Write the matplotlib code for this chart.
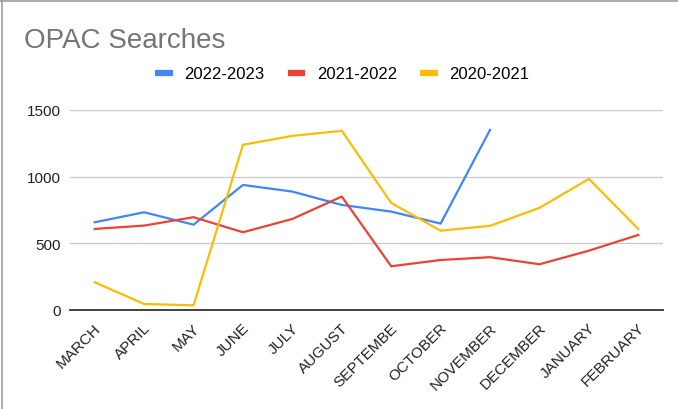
import matplotlib
matplotlib.use("Agg")
import matplotlib.pyplot as plt
import matplotlib.transforms as mtransforms
from matplotlib.lines import Line2D

plt.rcParams['font.family'] = ['Liberation Sans', 'DejaVu Sans']

months = ["MARCH", "APRIL", "MAY", "JUNE", "JULY", "AUGUST", "SEPTEMBE",
          "OCTOBER", "NOVEMBER", "DECEMBER", "JANUARY", "FEBRUARY"]
searches_2022_2023 = [658, 733, 640, 938, 888, 788, 738, 648, 1351]
searches_2021_2022 = [608, 633, 696, 583, 683, 851, 328, 375, 396, 343, 445, 563]
searches_2020_2021 = [208, 45, 35, 1239, 1306, 1344, 803, 595, 631, 766, 983, 608]

series = [
    ("2022-2023", searches_2022_2023, "#4285F4"),
    ("2021-2022", searches_2021_2022, "#EA4335"),
    ("2020-2021", searches_2020_2021, "#FBBC04"),
]

fig = plt.figure(figsize=(6.78, 4.10), dpi=100)
ax = fig.add_axes([70 / 678, 1 - 311 / 410, 593 / 678, 200 / 410])

x = list(range(len(months)))
handles = []
for name, vals, col in series:
    ax.plot(x[:len(vals)], vals, color=col, linewidth=1.6, zorder=3)
    handles.append(Line2D([], [], color=col, linewidth=4.5, solid_capstyle='butt'))

ax.set_xlim(-0.5, len(months) - 0.5)
ax.set_ylim(0, 1500)
ax.set_yticks([0, 500, 1000, 1500])
ax.set_xticks(x)
ax.set_xticklabels(months, rotation=45, ha='right', va='center',
                   rotation_mode='anchor')
ax.tick_params(axis='both', length=0, labelsize=11, colors='#222222')
ax.tick_params(axis='y', pad=6.5)
ax.tick_params(axis='x', pad=11)
shift = mtransforms.ScaledTranslation(4 / 100, 0, fig.dpi_scale_trans)
for lbl in ax.get_xticklabels():
    lbl.set_transform(lbl.get_transform() + shift)
ax.grid(axis='y', color='#cccccc', linewidth=1)
ax.set_axisbelow(True)
for s in ['top', 'right', 'left']:
    ax.spines[s].set_visible(False)
ax.spines['bottom'].set_color('#333333')
ax.spines['bottom'].set_linewidth(1.3)
ax.spines['bottom'].set_zorder(4)

fig.text(24 / 678, 1 - 41 / 410, "OPAC Searches", fontsize=20, color='#757575',
         va='center', ha='left')

fig.legend(handles, [s[0] for s in series], loc='center',
           bbox_to_anchor=(0.505, 1 - 75 / 410), ncol=3, frameon=False,
           fontsize=12, handlelength=1.05, handletextpad=0.7, columnspacing=1.4)

# frame edges along top and left
fig.add_artist(Line2D([0, 1], [1 - 2 / 410, 1 - 2 / 410], color='#9e9e9e', linewidth=1.2))
fig.add_artist(Line2D([1.5 / 678, 1.5 / 678], [0, 1], color='#9e9e9e', linewidth=1.2))

fig.savefig("out.png", dpi=100)
